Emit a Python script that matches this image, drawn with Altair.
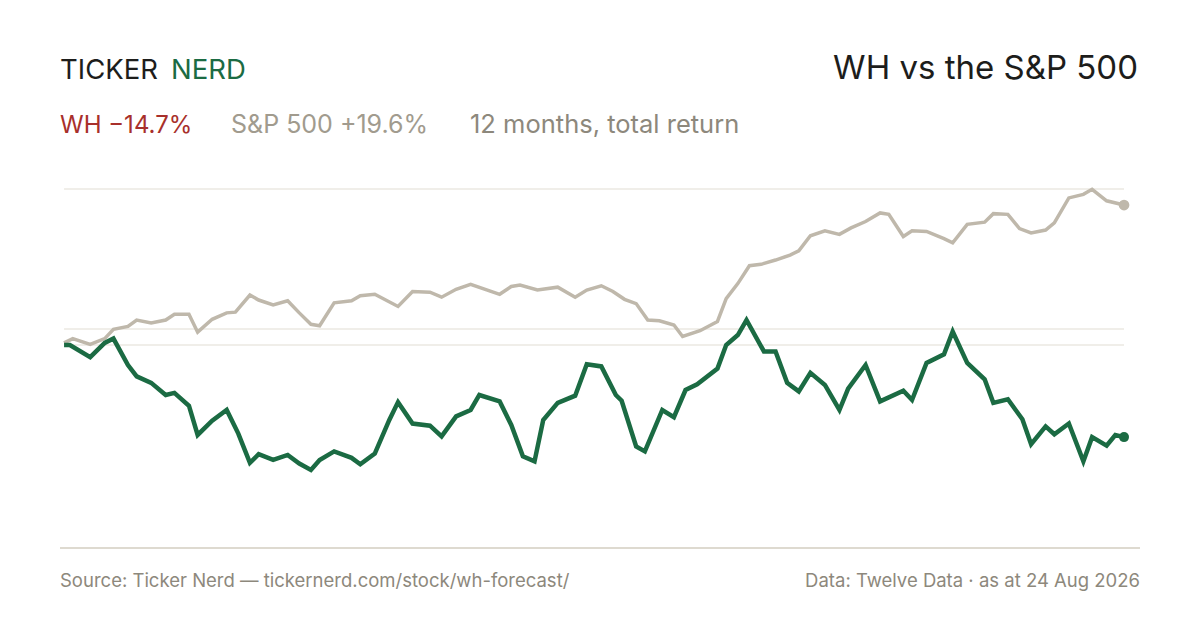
"""WH vs the S&P 500 — 12 month total return, Ticker Nerd style."""
import altair as alt
import pandas as pd

FONT = "Inter"
GREEN = "#1b6b43"
SPX_GREY = "#bfb8ab"
GRID = "#ebe8e2"
MUTED = "#8d887c"

# days since 24 Aug 2025, cumulative return in %
wh_day = [0, 2, 9, 14, 17, 22, 25, 30, 35, 38, 43, 46, 51, 56, 60, 64, 67,
          72, 77, 81, 85, 88, 93, 99, 102, 107, 112, 115, 120, 126, 130, 135,
          140, 143, 150, 154, 158, 162, 165, 170, 176, 180, 185, 190, 192,
          197, 200, 206, 210, 214, 218, 225, 228, 232, 235, 241, 245, 249,
          253, 257, 262, 267, 270, 276, 281, 289, 292, 297, 303, 306, 311,
          317, 320, 325, 330, 333, 338, 341, 346, 351, 354, 359, 362, 365]
wh_ret = [0.0, 0.0, -1.7, 0.3, 0.9, -2.8, -4.4, -5.3, -7.0, -6.7, -8.5, -12.6,
          -10.6, -9.1, -12.4, -16.5, -15.3, -16.1, -15.4, -16.6, -17.5, -16.1,
          -14.9, -15.8, -16.7, -15.2, -10.5, -8.0, -11.0, -11.3, -12.8, -10.0,
          -9.1, -7.0, -7.9, -11.2, -15.6, -16.3, -10.5, -8.1, -7.1, -2.7, -3.0,
          -7.0, -7.8, -14.2, -14.9, -9.1, -10.1, -6.3, -5.5, -3.3, 0.0, 1.4,
          3.5, -0.9, -0.9, -5.3, -6.5, -3.9, -5.6, -9.1, -6.1, -2.8, -7.9,
          -6.4, -7.7, -2.5, -1.3, 1.9, -2.5, -4.8, -8.1, -7.6, -10.4, -13.9,
          -11.4, -12.5, -11.0, -16.3, -12.9, -14.1, -12.6, -12.9]

spx_day = [0, 3, 9, 14, 17, 22, 25, 30, 35, 38, 43, 46, 51, 56, 59, 64, 67,
           72, 77, 81, 85, 88, 93, 99, 102, 107, 115, 120, 126, 130, 135, 140,
           150, 154, 157, 163, 170, 176, 180, 185, 189, 193, 197, 201, 205,
           210, 213, 219, 225, 228, 232, 236, 240, 245, 250, 253, 257, 262,
           267, 271, 276, 281, 284, 289, 292, 297, 303, 306, 311, 317, 320,
           325, 329, 333, 338, 341, 346, 351, 354, 359, 365]
spx_ret = [0.3, 0.9, 0.1, 0.9, 2.2, 2.6, 3.5, 3.1, 3.5, 4.3, 4.3, 1.8, 3.6,
           4.5, 4.6, 7.0, 6.3, 5.6, 6.2, 4.5, 2.9, 2.7, 5.9, 6.2, 6.9, 7.1, 5.4,
           7.5, 7.4, 6.7, 7.8, 8.5, 7.1, 8.2, 8.4, 7.7, 8.1, 6.7, 7.7, 8.3, 7.5,
           6.4, 5.8, 3.5, 3.4, 2.8, 1.2, 2.0, 3.3, 6.5, 8.6, 11.1, 11.3, 11.9,
           12.6, 13.2, 15.3, 16.0, 15.5, 16.4, 17.3, 18.5, 18.3, 15.2, 16.0,
           15.9, 14.9, 14.3, 16.9, 17.2, 18.4, 18.3, 16.3, 15.7, 16.1, 17.1,
           20.6, 21.1, 21.8, 20.2, 19.6]

grid_values = [21.85, 2.24, 0.0]

X_MIN, X_MAX = -1.4, 370.5
Y_MIN, Y_MAX = -28.43, 21.85

wh = pd.DataFrame({"day": wh_day, "ret": wh_ret})
spx = pd.DataFrame({"day": spx_day, "ret": spx_ret})
grid = pd.DataFrame({"y": grid_values, "x0": 0, "x1": 365})
baseline = pd.DataFrame({"y": [Y_MIN], "x0": [X_MIN], "x1": [X_MAX]})

x_scale = alt.Scale(domain=[X_MIN, X_MAX], nice=False, zero=False)
y_scale = alt.Scale(domain=[Y_MIN, Y_MAX], nice=False, zero=False)
x_enc = alt.X("day:Q", scale=x_scale, axis=None)
y_enc = alt.Y("ret:Q", scale=y_scale, axis=None)


def hrule(df, color, width):
    return alt.Chart(df).mark_rule(color=color, strokeWidth=width).encode(
        x=alt.X("x0:Q", scale=x_scale, axis=None),
        x2="x1:Q",
        y=alt.Y("y:Q", scale=y_scale, axis=None),
    )


gridlines = hrule(grid, GRID, 1.5)
bottom_line = hrule(baseline, "#dedad0", 2)

spx_line = alt.Chart(spx).mark_line(color=SPX_GREY, strokeWidth=3.5).encode(x=x_enc, y=y_enc)
wh_line = alt.Chart(wh).mark_line(color=GREEN, strokeWidth=4.5).encode(x=x_enc, y=y_enc)
spx_end = alt.Chart(spx.tail(1)).mark_circle(color=SPX_GREY, size=115, opacity=1).encode(x=x_enc, y=y_enc)
wh_end = alt.Chart(wh.tail(1)).mark_circle(color=GREEN, size=100, opacity=1).encode(x=x_enc, y=y_enc)


def label(text, x, y, size, color, align="left"):
    return alt.Chart(pd.DataFrame({"t": [text]})).mark_text(
        align=align, baseline="alphabetic", font=FONT, fontSize=size, color=color,
    ).encode(text="t:N", x=alt.value(x), y=alt.value(y))


texts = [
    label("TICKER", 0, -110, 27.5, "#1d1d1b"),
    label("NERD", 111, -110, 27.5, GREEN),
    label("WH vs the S&P 500", 1078, -110, 33, "#1d1d1b", align="right"),
    label("WH \u221214.7%", 0, -56, 24, "#a8302b"),
    label("S&P 500 +19.6%", 171, -56, 25, "#a19b8e"),
    label("12 months, total return", 410, -56, 25.5, MUTED),
    label("Source: Ticker Nerd \u2014 tickernerd.com/stock/wh-forecast/", 0, 398, 18.5, MUTED),
    label("Data: Twelve Data \u00b7 as at 24 Aug 2026", 1080, 398, 18.5, MUTED, align="right"),
]

chart = alt.layer(
    gridlines, bottom_line, spx_line, wh_line, spx_end, wh_end, *texts
).properties(
    width=1080,
    height=359,
    autosize=alt.AutoSizeParams(type="none"),
    padding={"left": 52, "top": 181, "right": 40, "bottom": 60},
    background="white",
).configure_view(stroke=None)

chart.save("out.html", embed_options={"renderer": "svg", "actions": False})
